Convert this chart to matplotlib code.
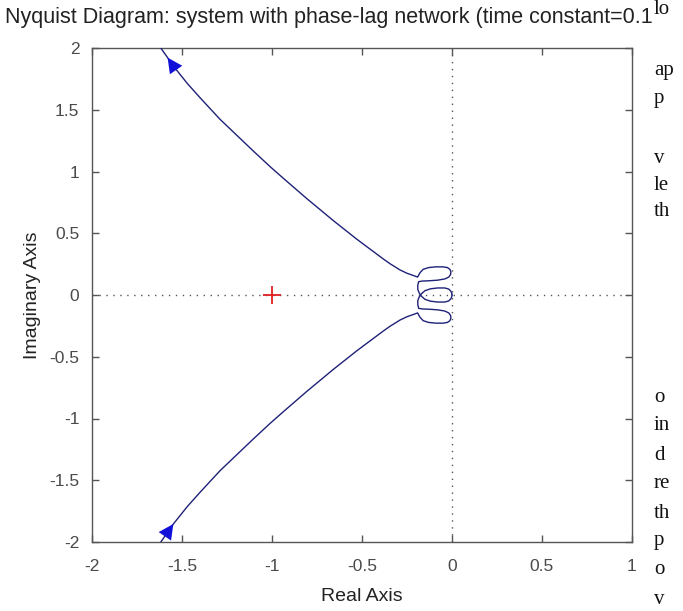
import matplotlib
matplotlib.use("Agg")
import matplotlib.pyplot as plt

# ---- data ----
title_text = "Nyquist Diagram: system with phase-lag network (time constant=0.1"
x_label = "Real Axis"
y_label = "Imaginary Axis"
x_ticks = [-2, -1.5, -1, -0.5, 0, 0.5, 1]
y_ticks = [-2, -1.5, -1, -0.5, 0, 0.5, 1, 1.5, 2]
x_tick_labels = ["-2", "-1.5", "-1", "-0.5", "0", "0.5", "1"]
y_tick_labels = ["-2", "-1.5", "-1", "-0.5", "0", "0.5", "1", "1.5", "2"]

# branch for negative frequencies (upper half); the positive-frequency
# branch is its complex conjugate
re_branch = [-1.660, -1.613, -1.580, -1.548, -1.470, -1.400, -1.289, -1.104,
             -1.011, -0.937, -0.807, -0.659, -0.529, -0.382, -0.344, -0.289,
             -0.250, -0.215, -0.191,
             -0.178, -0.160, -0.130, -0.090, -0.050, -0.025, -0.012, -0.006,
             -0.008, -0.018, -0.040, -0.080, -0.130, -0.165, -0.185,
             -0.190, -0.190,
             -0.182, -0.170, -0.150, -0.120, -0.080, -0.040, -0.018, -0.006,
             -0.001, 0.000]
im_branch = [2.090, 1.990, 1.922, 1.854, 1.712, 1.598, 1.423, 1.166,
             1.040, 0.945, 0.781, 0.602, 0.452, 0.292, 0.253, 0.203,
             0.176, 0.158, 0.145,
             0.180, 0.208, 0.222, 0.228, 0.228, 0.222, 0.208, 0.188,
             0.165, 0.145, 0.130, 0.120, 0.115, 0.113, 0.108,
             0.080, 0.045,
             0.015, -0.010, -0.035, -0.050, -0.057, -0.057, -0.048, -0.030,
             -0.012, 0.000]

critical_point = (-1.0, 0.0)
arrow_up_idx = 2     # arrow tip on the upper branch
arrow_low_idx = 3    # arrow tip on the lower branch

side_text = ["lo", "ap", "p", "v", "le", "th", "o", "in", "d", "re", "th", "p", "o", "v"]
side_text_y = [10, 70, 98, 158, 185, 212, 398, 426, 455, 484, 513, 541, 570, 600]

# ---- figure ----
W, H = 683, 611
fig = plt.figure(figsize=(W / 100, H / 100), dpi=100)
fig.patch.set_facecolor("white")
ax = fig.add_axes([92 / W, 1 - 542 / H, 540 / W, 494 / H])

line_col = "#1f2178"
arrow_col = "#1010d8"

ax.axhline(0, color="#555555", lw=1.0, ls=(0, (1, 4)), zorder=1)
ax.axvline(0, color="#555555", lw=1.0, ls=(0, (1, 4)), zorder=1)

im_low = [-v for v in im_branch]
ax.plot(re_branch, im_branch, color=line_col, lw=1.0, zorder=3)
ax.plot(re_branch, im_low, color=line_col, lw=1.0, zorder=3)

ax.plot([critical_point[0]], [critical_point[1]], marker="+", color="#e02020",
        markersize=13, mew=1.3, ls="none", zorder=4)

aprops = dict(arrowstyle="-|>,head_length=0.9,head_width=0.45", color=arrow_col,
              lw=0, shrinkA=0, shrinkB=0, mutation_scale=12)
i = arrow_up_idx
ax.annotate("", xy=(re_branch[i], im_branch[i]),
            xytext=(re_branch[i + 1], im_branch[i + 1]), arrowprops=aprops, zorder=5)
j = arrow_low_idx
ax.annotate("", xy=(re_branch[j], im_low[j]),
            xytext=(re_branch[j - 1], im_low[j - 1]), arrowprops=aprops, zorder=5)

ax.set_xlim(-2, 1)
ax.set_ylim(-2, 2)
ax.set_xticks(x_ticks)
ax.set_xticklabels(x_tick_labels)
ax.set_yticks(y_ticks)
ax.set_yticklabels(y_tick_labels)

font = "Liberation Sans"
tick_col = "#4a4a4a"
ax.tick_params(direction="in", top=True, right=True, length=5, width=1,
               color="#555555", labelcolor=tick_col, labelsize=12.5)
ax.tick_params(axis="x", pad=12)
ax.tick_params(axis="y", pad=9)
for lab in ax.get_xticklabels() + ax.get_yticklabels():
    lab.set_fontfamily(font)
for s in ax.spines.values():
    s.set_color("#555555")
    s.set_linewidth(1.0)

ax.set_xlabel(x_label, fontsize=14, family=font, color="#222222", labelpad=10)
ax.set_ylabel(y_label, fontsize=14, family=font, color="#222222", labelpad=6)

fig.text(5 / W, 1 - 17 / H, title_text, ha="left", va="center", fontsize=15.5,
         family=font, color="#222222")

for t, yy in zip(side_text, side_text_y):
    fig.text(654 / W, 1 - yy / H, t, ha="left", va="center", fontsize=15,
             family="Liberation Serif", color="#111111")

fig.savefig("out.png", dpi=100, facecolor="white")
